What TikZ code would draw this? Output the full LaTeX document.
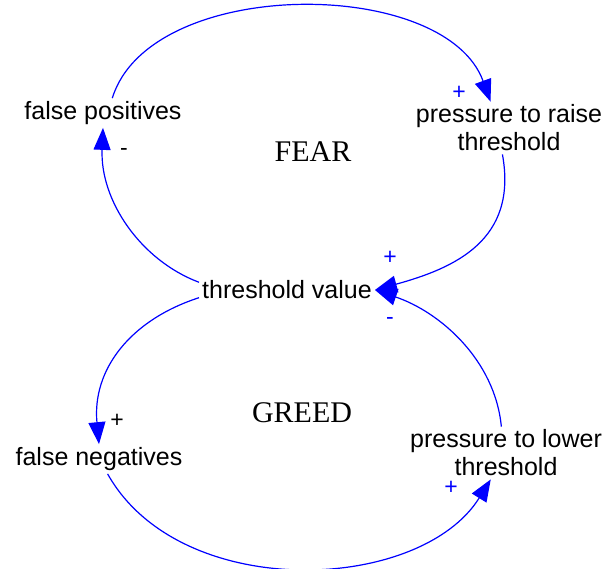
\documentclass[tikz,border=0pt]{standalone}
\usepackage{fontspec}
\setmainfont{Liberation Sans}
\newfontfamily\loopfont{Liberation Serif}
\usetikzlibrary{arrows.meta}

\begin{document}
\begin{tikzpicture}[x=1pt, y=-1pt,
	var/.style={font=\fontsize{25}{28}\selectfont, align=center, inner sep=3pt},
	link/.style={blue, line width=1.2pt, -{Triangle[length=22pt,width=17pt]}},
	sign/.style={font=\fontsize{23}{24}\selectfont, inner sep=0pt},
	loopname/.style={font=\loopfont\fontsize{30}{32}\selectfont}]
	\useasboundingbox (0,0) rectangle (606,569);
	% variables
	\node[var] (fp)  at (103,113) {false positives};
	\node[var] (prt) at (509,128) {pressure to raise\\threshold};
	\node[var] (tv)  at (287,290) {threshold value};
	\node[var] (fn)  at (99,459)  {false negatives};
	\node[var] (prl) at (506,453) {pressure to lower\\threshold};
	\node[loopname] (fear)  at (313,152) {FEAR};
	\node[loopname] (greed) at (302,413) {GREED};
	% fear loop
	\draw[link] (fp.58) .. controls (150,-24) and (445,-24) .. (prt.125);
	\draw[link] (prt.256) .. controls (518,240) and (455,268) .. (tv.east);
	\draw[link] (tv.175) .. controls (140,260) and (100,200) .. (fp.south);
	% greed loop
	\draw[link] (tv.185) .. controls (130,320) and (92,370) .. (fn.north);
	\draw[link] (fn.-60) .. controls (180,603) and (420,593) .. (prl.240);
	\draw[link] (prl.100) .. controls (495,360) and (440,312) .. (tv.east);
	% polarities
	\node[sign, blue] (s1) at (459,93)  {+};
	\node[sign, blue] (s2) at (390,258) {+};
	\node[sign]       (s3) at (124,152) {-};
	\node[sign]       (s4) at (117,421) {+};
	\node[sign, blue] (s5) at (451,488) {+};
	\node[sign, blue] (s6) at (390,321) {-};
\end{tikzpicture}
\end{document}
